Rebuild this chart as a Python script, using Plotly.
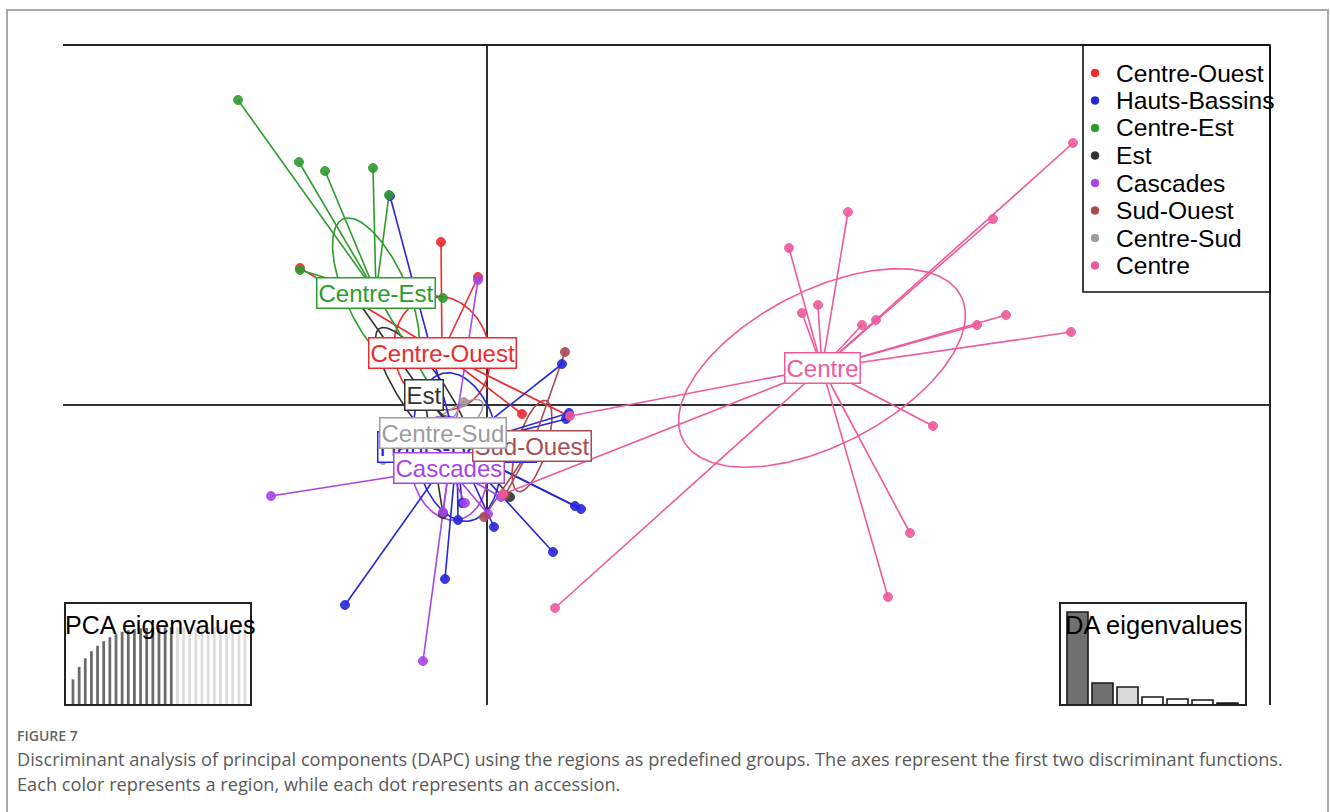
import numpy as np
import plotly.graph_objects as go

# ---------------- data ----------------
groups = ["Centre-Ouest", "Hauts-Bassins", "Centre-Est", "Est",
          "Cascades", "Sud-Ouest", "Centre-Sud", "Centre"]
colors = ["#EE2A2E", "#2626D9", "#2E9B2E", "#333333",
          "#A845E8", "#A84B50", "#9C9C9C", "#EF5A9C"]

# group centroids on the first two discriminant functions
centroid_x = [-0.90, -0.60, -2.22, -1.26, -0.76, 0.90, -0.88, 6.70]
centroid_y = [1.04, -0.84, 2.24, 0.20, -1.26, -0.82, -0.56, 0.74]

# individual accessions (LD1, LD2) per region
ld1 = {
    "Centre-Ouest": [-0.92, -0.18, -3.74, 0.70, 1.64],
    "Hauts-Bassins": [-1.94, 1.50, 1.64, 1.58, 1.76, 1.88, 1.32, -2.84, -0.84, -0.50, -0.58, 0.14, -2.08],
    "Centre-Est": [-4.98, -3.76, -3.24, -2.28, -1.96, -3.74, -0.88, -1.02],
    "Est": [-2.60, -0.88, 0.46, -0.34],
    "Cascades": [-4.32, -1.28, -0.88, 0.02, 0.28, -0.18, -0.44],
    "Sud-Ouest": [1.56, -0.06, 0.36],
    "Centre-Sud": [-0.46, -2.08],
    "Centre": [11.72, 10.12, 7.22, 6.04, 6.30, 6.62, 7.50, 7.78, 9.80, 10.38,
               11.68, 8.92, 8.46, 8.02, 1.36, 1.66, 0.32],
}
ld2 = {
    "Centre-Ouest": [3.26, 2.56, 2.74, -0.18, -0.22],
    "Hauts-Bassins": [4.18, 0.82, -0.16, -0.28, -2.02, -2.08, -2.94, -4.00, -3.48, -1.96, -2.30, -2.44, -0.94],
    "Centre-Est": [6.10, 4.86, 4.68, 4.74, 4.20, 2.70, 2.14, 0.18],
    "Est": [2.10, -2.18, -1.84, -0.80],
    "Cascades": [-1.82, -5.12, -2.14, -2.18, -1.84, 2.50, -1.96],
    "Sud-Ouest": [1.06, -2.24, -1.80],
    "Centre-Sud": [0.06, -1.10],
    "Centre": [5.24, 3.72, 3.86, 3.14, 1.84, 2.00, 1.60, 1.70, 1.60, 1.80,
               1.46, -0.42, -2.56, -3.84, -4.06, -0.22, -1.78],
}

# inertia ellipses: semi-axes and orientation (degrees)
ell_a = [1.15, 1.50, 1.62, 1.60, 1.05, 0.95, 1.00, 3.13]
ell_b = [0.95, 0.85, 0.62, 0.45, 0.75, 0.30, 0.30, 1.54]
ell_angle = [-75, -80, -66, -56, -80, 73, 39, 27.4]

# eigenvalue insets
pca_eig_cum = [0.33, 0.49, 0.60, 0.69, 0.76, 0.82, 0.87, 0.91, 0.94, 0.96,
               0.975, 0.985, 0.99, 0.993, 0.996, 0.998, 1.0,
               1.0, 1.0, 1.0, 1.0, 1.0, 1.0, 1.0, 1.0, 1.0, 1.0, 1.0, 1.0]
pca_retained = 17
da_eig = [1.0, 0.237, 0.194, 0.086, 0.065, 0.054, 0.02]
da_fill = ["#707070", "#707070", "#d9d9d9", "#ffffff", "#ffffff", "#ffffff", "#ffffff"]

caption_head = "FIGURE 7"
caption_lines = [
    "Discriminant analysis of principal components (DAPC) using the regions as predefined groups. "
    "The axes represent the first two discriminant functions.",
    "Each color represents a region, while each dot represents an accession.",
]

# ---------------- layout geometry ----------------
W, H = 1330, 812
L, R, T, B = 63, 1270, 45, 705
X_RANGE = [-8.48, 15.66]
Y_RANGE = [-6.0, 7.2]


def px(x):
    return (x - L) / (R - L)


def py(y):
    return (B - y) / (B - T)


FONT = "Liberation Sans, Arial, sans-serif"
fig = go.Figure()

# ellipses
t = np.linspace(0, 2 * np.pi, 200)
for g, c, cx, cy, a, b, ang in zip(groups, colors, centroid_x, centroid_y, ell_a, ell_b, ell_angle):
    th = np.deg2rad(ang)
    ex = cx + a * np.cos(t) * np.cos(th) - b * np.sin(t) * np.sin(th)
    ey = cy + a * np.cos(t) * np.sin(th) + b * np.sin(t) * np.cos(th)
    fig.add_trace(go.Scatter(x=ex, y=ey, mode="lines", line=dict(color=c, width=1.6),
                             hoverinfo="skip", showlegend=False))

# star segments from each centroid to its accessions
for g, c, cx, cy in zip(groups, colors, centroid_x, centroid_y):
    sx, sy = [], []
    for x, y in zip(ld1[g], ld2[g]):
        sx += [cx, x, None]
        sy += [cy, y, None]
    fig.add_trace(go.Scatter(x=sx, y=sy, mode="lines", line=dict(color=c, width=1.6),
                             hoverinfo="skip", showlegend=False))

# accession points
for g, c in zip(groups, colors):
    fig.add_trace(go.Scatter(x=ld1[g], y=ld2[g], mode="markers", name=g,
                             marker=dict(color=c, size=9, opacity=0.9,
                                         line=dict(color=c, width=1)),
                             showlegend=False))

annotations = []
# group labels at the centroids
for g, c, cx, cy in zip(groups, colors, centroid_x, centroid_y):
    annotations.append(dict(xref="x", yref="y", x=cx, y=cy, text=g, showarrow=False,
                            font=dict(family=FONT, size=24, color=c),
                            bgcolor="white", bordercolor=c, borderwidth=1.5, borderpad=1))

# PCA eigenvalue inset
n_pca = len(pca_eig_cum)
fig.add_trace(go.Bar(x=list(range(1, n_pca + 1)), y=pca_eig_cum, width=0.45,
                     marker=dict(color=["#6b6b6b" if i < pca_retained else "#dcdcdc" for i in range(n_pca)],
                                 line=dict(width=0)),
                     xaxis="x2", yaxis="y2", showlegend=False, hoverinfo="skip"))
# DA eigenvalue inset
n_da = len(da_eig)
fig.add_trace(go.Bar(x=list(range(1, n_da + 1)), y=da_eig, width=0.84,
                     marker=dict(color=da_fill, line=dict(color="#1a1a1a", width=1.6)),
                     xaxis="x3", yaxis="y3", showlegend=False, hoverinfo="skip"))

shapes = []
# outer page frame
shapes.append(dict(type="rect", xref="paper", yref="paper", x0=px(7), x1=px(1328), y0=py(900), y1=py(10),
                   line=dict(color="#a9a9a9", width=2), layer="above"))
# zero axes
shapes.append(dict(type="line", xref="x", yref="y", x0=0, x1=0, y0=Y_RANGE[0], y1=Y_RANGE[1],
                   line=dict(color="#333333", width=2), layer="below"))
shapes.append(dict(type="line", xref="x", yref="y", x0=X_RANGE[0], x1=X_RANGE[1], y0=0, y1=0,
                   line=dict(color="#333333", width=2), layer="below"))
# plot box (top and right edges)
shapes.append(dict(type="line", xref="paper", yref="paper", x0=0, x1=1, y0=1, y1=1,
                   line=dict(color="#222222", width=2)))
shapes.append(dict(type="line", xref="paper", yref="paper", x0=1, x1=1, y0=0, y1=1,
                   line=dict(color="#222222", width=2)))
# inset boxes
shapes.append(dict(type="rect", xref="paper", yref="paper", x0=px(65), x1=px(251), y0=py(705), y1=py(603),
                   line=dict(color="#222222", width=2)))
shapes.append(dict(type="rect", xref="paper", yref="paper", x0=px(1060), x1=px(1246), y0=py(705), y1=py(603),
                   line=dict(color="#222222", width=2)))
# legend box
shapes.append(dict(type="rect", xref="paper", yref="paper", x0=px(1083), x1=px(1270), y0=py(292), y1=py(45),
                   line=dict(color="#111111", width=1.6)))

legend_y0, legend_dy = 73, 27.5
for i, (g, c) in enumerate(zip(groups, colors)):
    yy = legend_y0 + i * legend_dy
    shapes.append(dict(type="circle", xref="paper", yref="paper",
                       x0=px(1091), x1=px(1099), y0=py(yy + 4), y1=py(yy - 4),
                       fillcolor=c, line=dict(color=c, width=0.5)))
    annotations.append(dict(xref="paper", yref="paper", x=px(1114), y=py(yy), text=g,
                            xanchor="left", yanchor="middle", showarrow=False,
                            font=dict(family=FONT, size=24.6, color="#000000")))

annotations.append(dict(xref="paper", yref="paper", x=px(160), y=py(625), text="PCA eigenvalues",
                        xanchor="center", yanchor="middle", showarrow=False,
                        font=dict(family=FONT, size=25, color="#000000")))
annotations.append(dict(xref="paper", yref="paper", x=px(1153), y=py(625), text="DA eigenvalues",
                        xanchor="center", yanchor="middle", showarrow=False,
                        font=dict(family=FONT, size=25.5, color="#000000")))

CAP_FONT = "Open Sans, Noto Sans, sans-serif"
annotations.append(dict(xref="paper", yref="paper", x=px(15), y=py(735), text=caption_head,
                        xanchor="left", yanchor="middle", showarrow=False,
                        font=dict(family=CAP_FONT, size=14, color="#666666", weight=600)))
for i, line in enumerate(caption_lines):
    annotations.append(dict(xref="paper", yref="paper", x=px(15), y=py(759 + 25 * i), text=line,
                            xanchor="left", yanchor="middle", showarrow=False,
                            font=dict(family=CAP_FONT, size=18.2, color="#5a5a5a")))

axis_off = dict(showgrid=False, zeroline=False, showticklabels=False, ticks="", showline=False)
fig.update_layout(
    width=W, height=H,
    margin=dict(l=L, r=W - R, t=T, b=H - B),
    paper_bgcolor="white", plot_bgcolor="white",
    xaxis=dict(range=X_RANGE, domain=[0, 1], **axis_off),
    yaxis=dict(range=Y_RANGE, domain=[0, 1], **axis_off),
    xaxis2=dict(range=[-0.3, n_pca + 0.98], domain=[px(65), px(251)], anchor="y2", **axis_off),
    yaxis2=dict(range=[0, 1.31], domain=[py(705), py(603)], anchor="x2", **axis_off),
    xaxis3=dict(range=[0.3, n_da + 0.74], domain=[px(1060), px(1246)], anchor="y3", **axis_off),
    yaxis3=dict(range=[0, 1.097], domain=[py(705), py(603)], anchor="x3", **axis_off),
    shapes=shapes, annotations=annotations, showlegend=False,
)

fig.write_html("out.html")
